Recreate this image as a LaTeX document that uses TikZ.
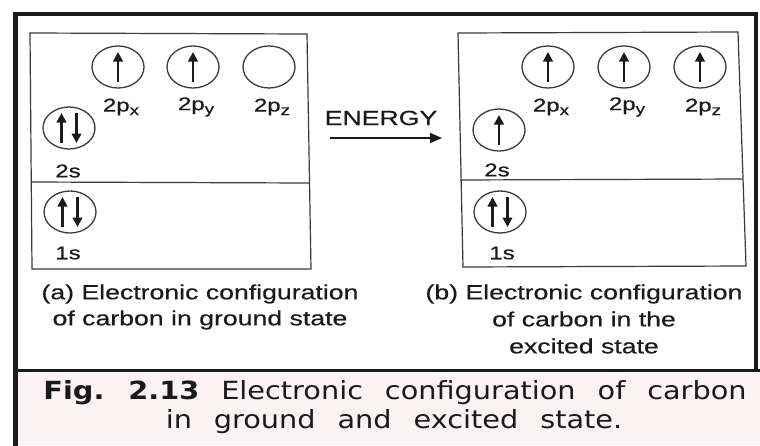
\documentclass[tikz,border=0pt]{standalone}
\usepackage{fontspec}
\setmainfont{Liberation Sans}
\newfontfamily\widefont[FakeStretch=1.3,FakeBold=0.4]{Liberation Sans}
\newfontfamily\capfont[FakeStretch=1.15,WordSpace=2.4]{DejaVu Sans}
\usetikzlibrary{shapes.geometric,arrows.meta}
\newcommand\orbsub[1]{\raisebox{-3.5pt}{\fontsize{14.5}{14.5}\selectfont #1}}
\definecolor{ink}{HTML}{1A1A1A}
\definecolor{linegray}{HTML}{3A3A3A}
\definecolor{capbg}{HTML}{FBF3F3}
\tikzset{
  orb/.style={draw=linegray, line width=1.3pt, ellipse, minimum width=52pt, minimum height=42pt, inner sep=0pt},
  spin/.style={draw=ink, line width=2.5pt, -{Triangle[length=9.5pt,width=9.5pt]}},
  lbl/.style={font=\widefont\fontsize{18.5}{20}\selectfont, text=ink, inner sep=0pt},
  captxt/.style={font=\widefont\fontsize{20.5}{26}\selectfont, text=ink, align=center, inner sep=0pt},
  figtxt/.style={font=\capfont\fontsize{25}{29}\selectfont, text=ink, inner sep=0pt},
  frame/.style={draw=ink, line cap=rect},
  boxline/.style={draw=linegray, line width=1.2pt}
}
\begin{document}
\begin{tikzpicture}[x=1pt,y=-1pt]
\useasboundingbox (0,0) rectangle (760,445);
\fill[white] (0,0) rectangle (760,445);
% caption background
\fill[capbg] (17,371) rectangle (760,445);
% outer frame
\draw[frame, line width=5pt] (15,14) -- (15,445);
\draw[frame, line width=4pt] (15,14) -- (756,14);
\draw[frame, line width=3.5pt] (756,14) -- (756,370);
\draw[frame, line width=3pt] (15,370) -- (760,370);

% left box
\draw[boxline] (30,33) -- (307,34) -- (311,269) -- (32,269) -- cycle;
\draw[boxline] (31,182) -- (309,183);
% right box
\draw[boxline] (458,33) -- (738,32) -- (746,266) -- (463,267) -- cycle;
\draw[boxline] (460,180) -- (742,179);

% left orbitals
\node[orb] (lpx) at (118,67) {};
\node[orb] (lpy) at (193,67) {};
\node[orb] (lpz) at (269,67) {};
\node[orb] (l2s) at (69,128) {};
\node[orb] (l1s) at (70,212) {};
\draw[spin] ([yshift=-15pt]lpx.center) -- ([yshift=15pt]lpx.center);
\draw[spin] ([yshift=-15pt]lpy.center) -- ([yshift=15pt]lpy.center);
\draw[spin] ([xshift=-7.5pt,yshift=-15pt]l2s.center) -- ([xshift=-7.5pt,yshift=15pt]l2s.center);
\draw[spin] ([xshift=7.5pt,yshift=15pt]l2s.center) -- ([xshift=7.5pt,yshift=-15pt]l2s.center);
\draw[spin] ([xshift=-7.5pt,yshift=-15pt]l1s.center) -- ([xshift=-7.5pt,yshift=15pt]l1s.center);
\draw[spin] ([xshift=7.5pt,yshift=15pt]l1s.center) -- ([xshift=7.5pt,yshift=-15pt]l1s.center);
\node[lbl] (tlpx) at (121,107) {2p\orbsub{x}};
\node[lbl] (tlpy) at (196,107) {2p\orbsub{y}};
\node[lbl] (tlpz) at (272,107) {2p\orbsub{z}};
\node[lbl] (tl2s) at (68,171) {2s};
\node[lbl] (tl1s) at (68,253) {1s};

% right orbitals
\node[orb] (rpx) at (548,67) {};
\node[orb] (rpy) at (624,67) {};
\node[orb] (rpz) at (700,67) {};
\node[orb] (r2s) at (499,130) {};
\node[orb] (r1s) at (500,212) {};
\draw[spin] ([yshift=-15pt]rpx.center) -- ([yshift=15pt]rpx.center);
\draw[spin] ([yshift=-15pt]rpy.center) -- ([yshift=15pt]rpy.center);
\draw[spin] ([yshift=-15pt]rpz.center) -- ([yshift=15pt]rpz.center);
\draw[spin] ([yshift=-15pt]r2s.center) -- ([yshift=15pt]r2s.center);
\draw[spin] ([xshift=-7.5pt,yshift=-15pt]r1s.center) -- ([xshift=-7.5pt,yshift=15pt]r1s.center);
\draw[spin] ([xshift=7.5pt,yshift=15pt]r1s.center) -- ([xshift=7.5pt,yshift=-15pt]r1s.center);
\node[lbl] (trpx) at (551,107) {2p\orbsub{x}};
\node[lbl] (trpy) at (627,107) {2p\orbsub{y}};
\node[lbl] (trpz) at (703,107) {2p\orbsub{z}};
\node[lbl] (tr2s) at (497,170) {2s};
\node[lbl] (tr1s) at (502,253) {1s};

% energy arrow
\node[captxt] (energy) at (381,118) {ENERGY};
\coordinate (ea) at (330,138);
\coordinate (eb) at (442,138);
\draw[draw=ink, line width=1.8pt, -{Triangle[length=12pt,width=10pt]}] (ea) -- (eb);

% sub captions
\node[captxt] (capa) at (200,307) {(a) Electronic configuration\\of carbon in ground state};
\node[captxt, font=\widefont\fontsize{20.5}{27}\selectfont] (capb) at (584,319) {(b) Electronic configuration\\of carbon in the\\excited state};

% figure caption
\node[figtxt] (fig1) at (395,393) {\textbf{Fig.\ 2.13} Electronic configuration of carbon};
\node[figtxt] (fig2) at (394,422) {in ground and excited state.};
\end{tikzpicture}
\end{document}
